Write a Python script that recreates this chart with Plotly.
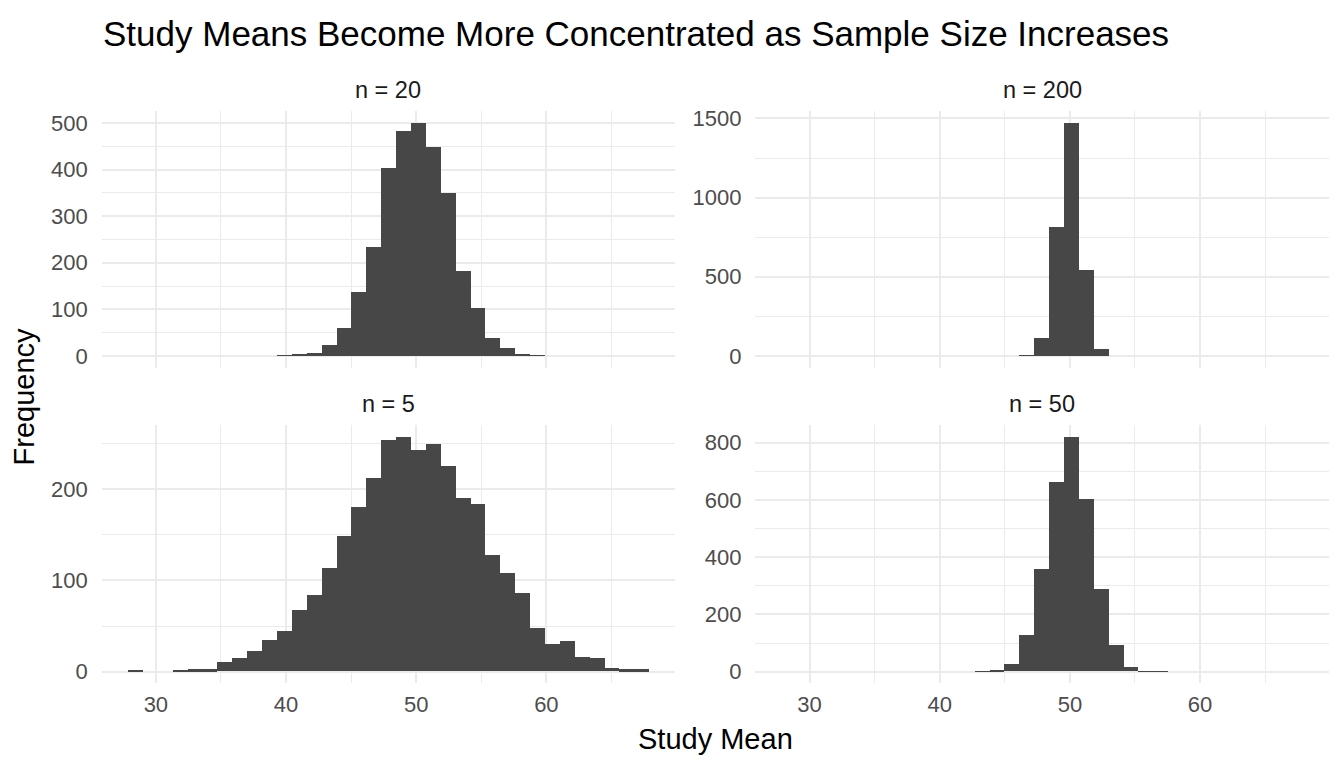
import plotly.graph_objects as go
from plotly.subplots import make_subplots

# shared histogram bins (35 bins on the common x scale)
BIN_START = 27.84
BIN_WIDTH = 1.144
N_BINS = 35

# counts per bin, one list per sample size
COUNTS_N5 = [1, 0, 0, 1, 2, 2, 10, 15, 22, 34, 44, 67, 84, 113, 148, 180, 212,
             253, 257, 243, 249, 225, 190, 183, 127, 108, 86, 47, 30, 33, 16, 15,
             4, 2, 2]
COUNTS_N20 = [0, 0, 0, 0, 0, 0, 0, 0, 0, 0, 1, 2, 5, 22, 60, 137, 233, 402, 483,
              500, 447, 349, 182, 103, 37, 16, 3, 1, 0, 0, 0, 0, 0, 0, 0]
COUNTS_N50 = [0, 0, 0, 0, 0, 0, 0, 0, 0, 0, 0, 0, 0, 1, 2, 26, 127, 357, 660,
              819, 601, 287, 92, 15, 1, 1, 0, 0, 0, 0, 0, 0, 0, 0, 0]
COUNTS_N200 = [0, 0, 0, 0, 0, 0, 0, 0, 0, 0, 0, 0, 0, 0, 0, 0, 1, 109, 812, 1471,
               542, 44, 0, 0, 0, 0, 0, 0, 0, 0, 0, 0, 0, 0, 0]

PANEL_LABELS = ["n = 20", "n = 200", "n = 5", "n = 50"]
PANEL_COUNTS = [COUNTS_N20, COUNTS_N200, COUNTS_N5, COUNTS_N50]
Y_DTICK = [100, 500, 100, 200]

X_TICKS = [30, 40, 50, 60]

BAR_COLOR = "#474747"
GRID = "#EBEBEB"
FONT = "Liberation Sans, Arial, Helvetica, sans-serif"

# the page body has an 8px margin, so the figure is drawn 8px in from the corner
OFFSET = 8
W, H = 1344 - OFFSET, 768 - OFFSET


def fx(px):
    return (px - OFFSET) / W


def fy(py):
    return 1 - (py - OFFSET) / H


centers = [BIN_START + BIN_WIDTH * (i + 0.5) for i in range(N_BINS)]
edges_lo, edges_hi = BIN_START, BIN_START + BIN_WIDTH * N_BINS
pad = 0.05 * (edges_hi - edges_lo)
x_range = [edges_lo - pad, edges_hi + pad]

# panel boxes in page pixels: (left, right, top, bottom)
BOXES = [(101.7, 675.0, 107.2, 365.4), (755.4, 1328.7, 107.2, 365.4),
         (101.7, 675.0, 423.7, 683.8), (755.4, 1328.7, 423.7, 683.8)]

fig = make_subplots(rows=2, cols=2)

for k, (counts, box) in enumerate(zip(PANEL_COUNTS, BOXES)):
    row, col = k // 2 + 1, k % 2 + 1
    fig.add_trace(
        go.Bar(x=centers, y=counts, width=BIN_WIDTH,
               marker={"color": BAR_COLOR, "line": {"width": 0}},
               showlegend=False, hoverinfo="x+y"),
        row=row, col=col,
    )
    left, right, top, bottom = box
    ymax = max(counts)
    dt = Y_DTICK[k]
    fig.update_xaxes(
        domain=[fx(left), fx(right)], range=x_range,
        tickvals=X_TICKS, showticklabels=(row == 2),
        showgrid=True, gridcolor=GRID, gridwidth=2.2, zeroline=False,
        minor={"dtick": 5, "tick0": 0, "showgrid": True, "gridcolor": GRID, "gridwidth": 1.1},
        tickfont={"size": 22, "color": "#4D4D4D", "family": FONT},
        ticks="", ticklabelstandoff=6,
        row=row, col=col,
    )
    fig.update_yaxes(
        domain=[fy(bottom), fy(top)], range=[-0.05 * ymax, 1.05 * ymax],
        dtick=dt, tick0=0,
        showgrid=True, gridcolor=GRID, gridwidth=2.2, zeroline=False,
        minor={"dtick": dt / 2, "tick0": 0, "showgrid": True, "gridcolor": GRID, "gridwidth": 1.1},
        tickfont={"size": 22, "color": "#4D4D4D", "family": FONT},
        ticks="", ticklabelstandoff=13,
        row=row, col=col,
    )
    fig.add_annotation(
        text=PANEL_LABELS[k], x=fx((left + right) / 2), y=fy(top - 22),
        xref="paper", yref="paper", showarrow=False,
        font={"size": 23.5, "color": "#1A1A1A", "family": FONT},
        xanchor="center", yanchor="middle",
    )

fig.add_annotation(
    text="Study Means Become More Concentrated as Sample Size Increases",
    x=fx(101), y=fy(28.5), xref="paper", yref="paper", showarrow=False,
    font={"size": 35, "color": "#000000", "family": FONT},
    xanchor="left", yanchor="middle",
)
fig.add_annotation(
    text="Study Mean", x=fx(715.2), y=fy(740),
    xref="paper", yref="paper", showarrow=False,
    font={"size": 29, "color": "#000000", "family": FONT},
    xanchor="center", yanchor="middle",
)
fig.add_annotation(
    text="Frequency", x=fx(23.5), y=fy(395), textangle=-90,
    xref="paper", yref="paper", showarrow=False,
    font={"size": 29, "color": "#000000", "family": FONT},
    xanchor="center", yanchor="middle",
)

fig.update_layout(
    width=W, height=H, bargap=0,
    margin={"l": 0, "r": 0, "t": 0, "b": 0},
    paper_bgcolor="white", plot_bgcolor="white",
    font={"family": FONT},
)

fig.write_html("out.html")
